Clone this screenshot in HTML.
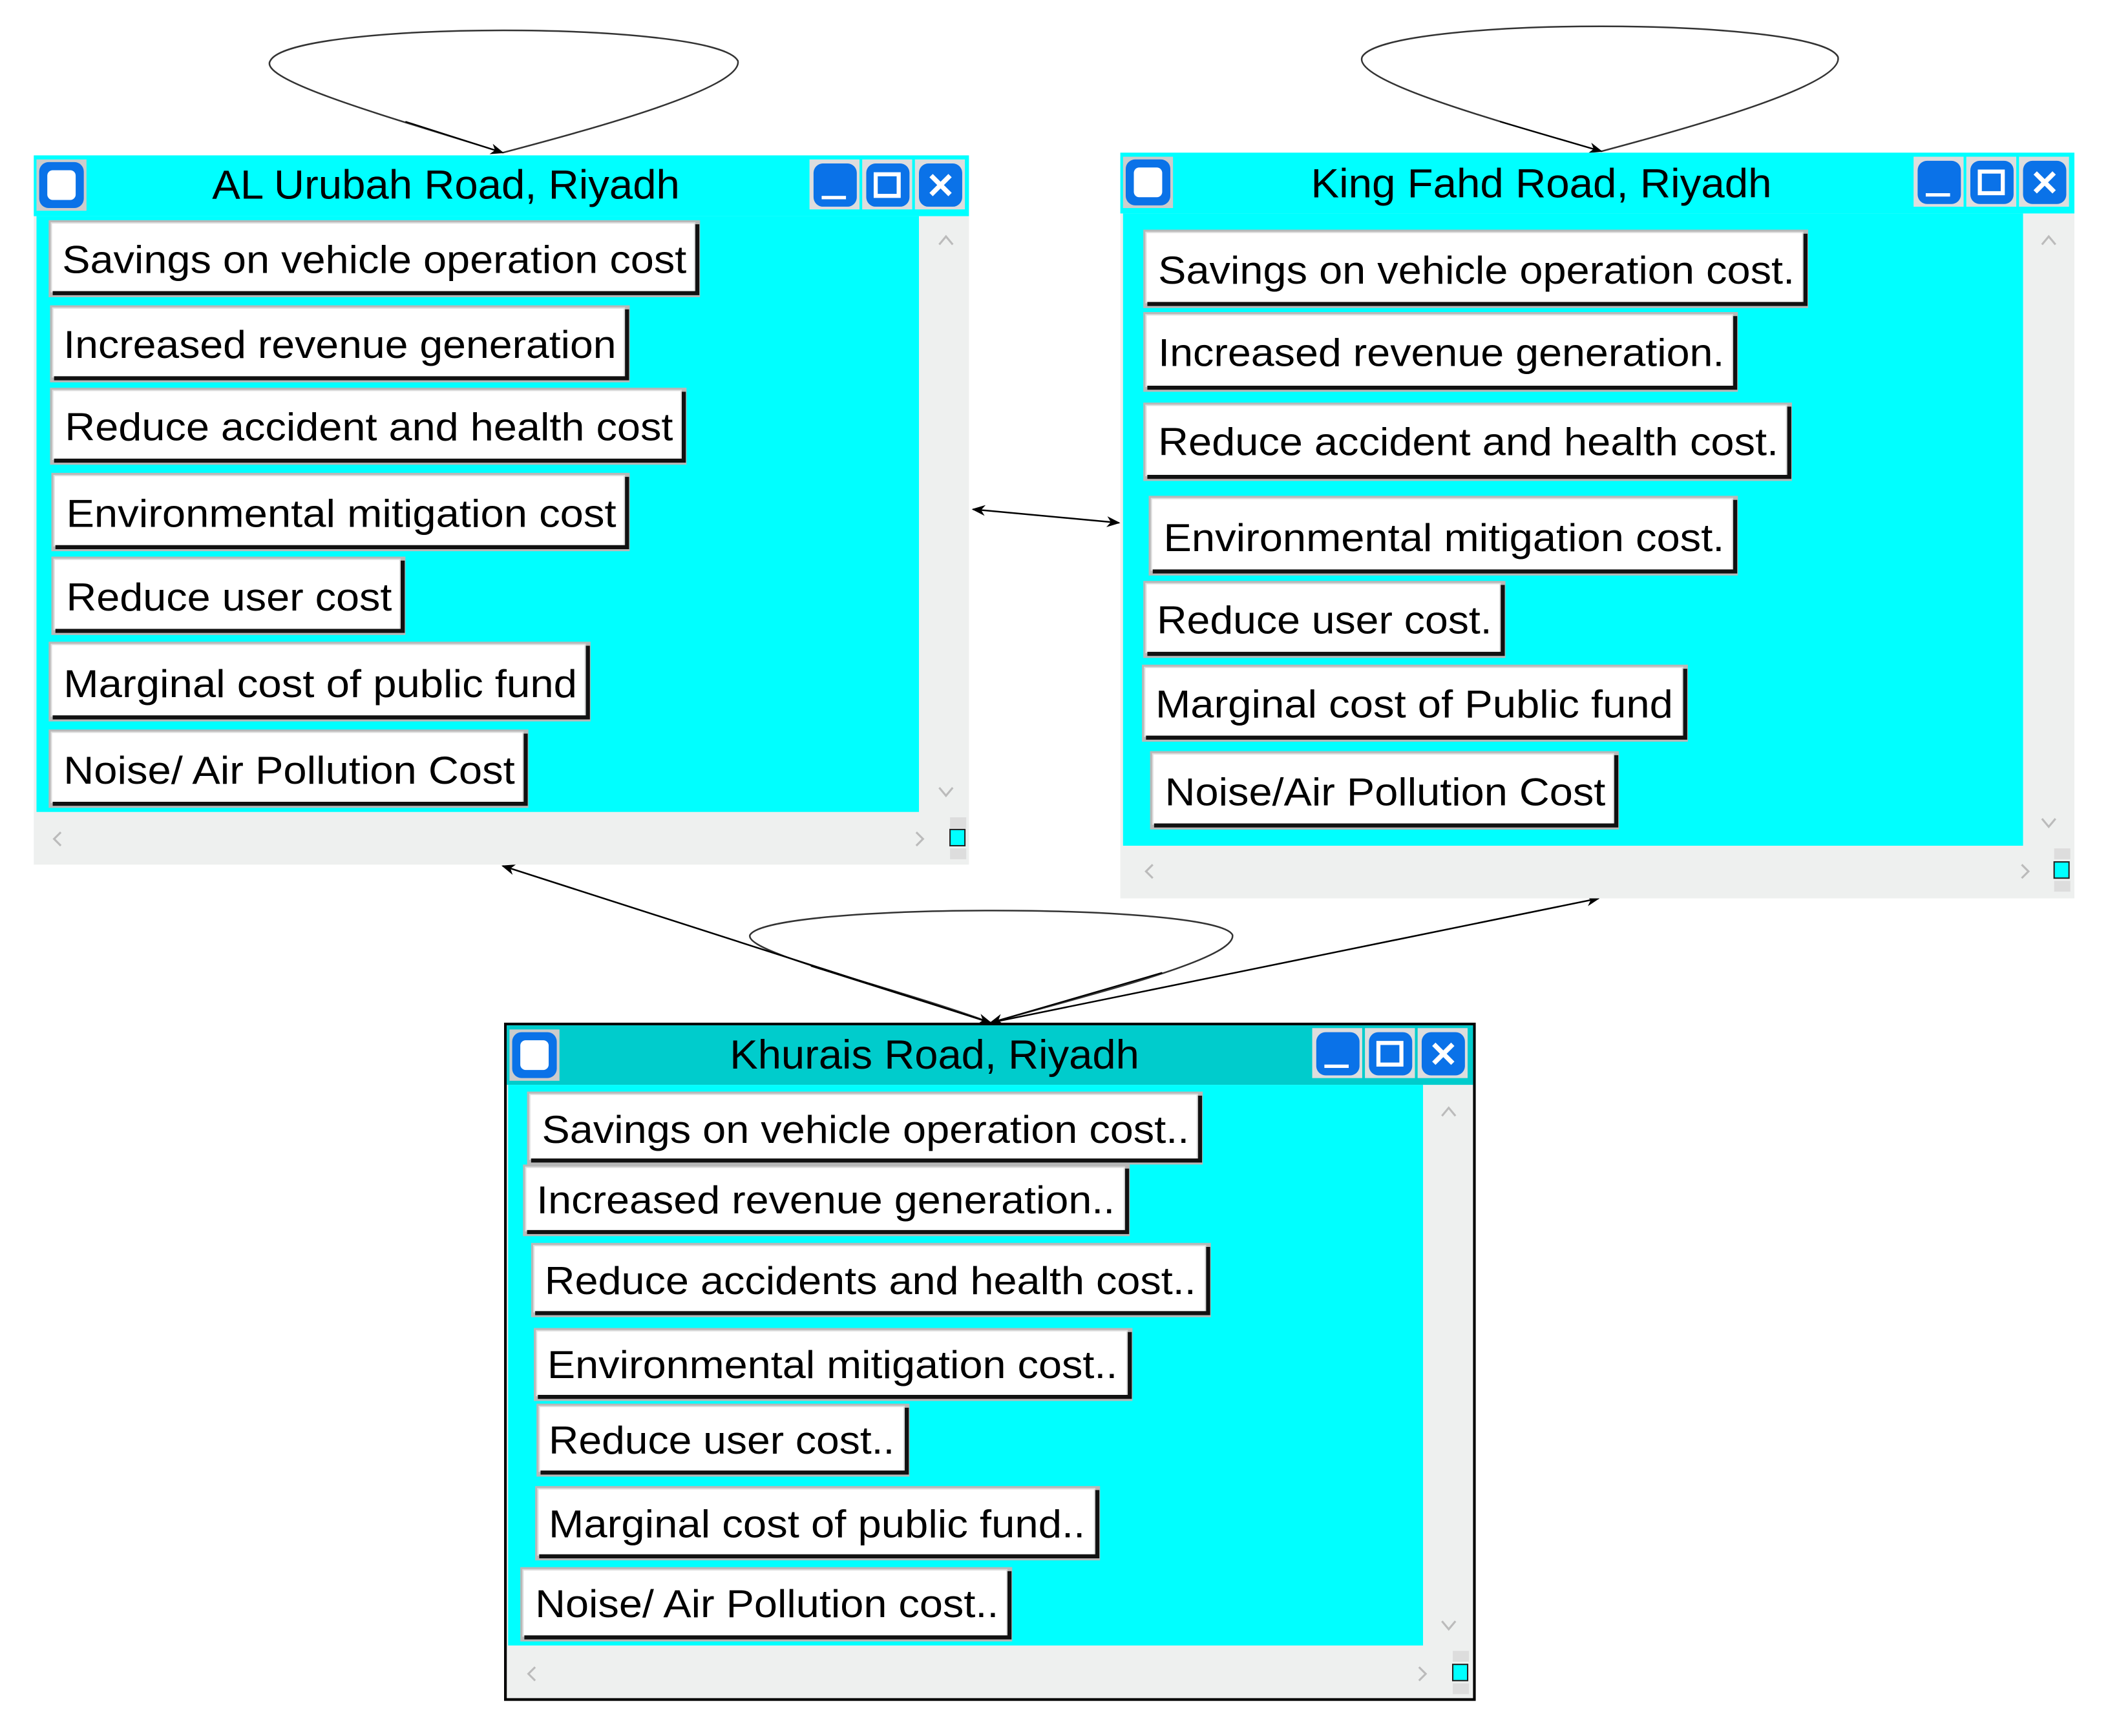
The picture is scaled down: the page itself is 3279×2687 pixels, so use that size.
<!DOCTYPE html>
<html><head><meta charset="utf-8"><style>html,body{margin:0;padding:0;background:#fff}svg{display:block}</style></head>
<body>
<svg width="3279" height="2687" viewBox="0 0 1568 1285" preserveAspectRatio="none" xmlns="http://www.w3.org/2000/svg" font-family="'Liberation Sans', sans-serif">
<defs>
<marker id="ah" markerWidth="10" markerHeight="8" refX="9" refY="4" orient="auto-start-reverse" markerUnits="userSpaceOnUse"><path d="M0,0 L10,4 L0,8 L3,4 Z" fill="#000"/></marker>
<g id="tb">
 <rect x="0" y="0" width="37" height="37" fill="#ddd"/><rect x="3" y="3" width="32" height="32" rx="7" fill="#0a72e8"/>
</g>
</defs>

<!-- loops -->
<path d="M372,113 C300,90 190,60 200,45 C215,15 530,15 546,45 C550,65 440,95 372,113" fill="none" stroke="#333" stroke-width="1.2"/>
<path d="M1185,112 C1110,90 1000,60 1008,42 C1025,12 1345,12 1360,42 C1365,62 1260,92 1185,112" fill="none" stroke="#333" stroke-width="1.2"/>
<path d="M733,757 C660,730 550,705 555,692 C570,668 900,668 912,692 C915,710 810,735 733,757" fill="none" stroke="#333" stroke-width="1.2"/>
<!-- edges -->
<line x1="720" y1="377" x2="828" y2="387" stroke="#000" stroke-width="1.2" marker-end="url(#ah)" marker-start="url(#ah)" />
<line x1="733" y1="757" x2="372" y2="641" stroke="#000" stroke-width="1.2" marker-end="url(#ah)"/>
<line x1="733" y1="757" x2="1183" y2="665" stroke="#000" stroke-width="1.2" marker-end="url(#ah)"/>
<line x1="600" y1="715" x2="733" y2="757" stroke="#000" stroke-width="1" marker-end="url(#ah)"/>
<line x1="860" y1="720" x2="733" y2="757" stroke="#000" stroke-width="1" marker-end="url(#ah)"/>
<line x1="300" y1="90" x2="372" y2="113" stroke="#000" stroke-width="1" marker-end="url(#ah)"/>
<line x1="1110" y1="90" x2="1185" y2="112" stroke="#000" stroke-width="1" marker-end="url(#ah)"/>

<!-- WINDOW 1 -->
<g>
<rect x="25" y="115" width="692" height="525" fill="#eef0ef"/>
<rect x="25" y="115" width="692" height="45" fill="#00ffff"/>
<rect x="27" y="160" width="653" height="441" fill="#00ffff"/>
<rect x="27" y="118" width="37" height="38" fill="#ccc"/><rect x="29" y="120" width="33" height="34" rx="7" fill="#0a72e8"/><rect x="35" y="126" width="21" height="22" rx="4" fill="#fff"/>
<g transform="translate(599,118)"><use href="#tb"/><rect x="9" y="27" width="18" height="2.5" fill="#fff"/></g>
<g transform="translate(638,118)"><use href="#tb"/><rect x="10" y="11" width="17" height="16" fill="none" stroke="#fff" stroke-width="3"/></g>
<g transform="translate(677,118)"><use href="#tb"/><path d="M12,12 L26,26 M26,12 L12,26" stroke="#fff" stroke-width="3.5"/></g>
<text x="157" y="147" font-size="30" textLength="346" lengthAdjust="spacingAndGlyphs">AL Urubah Road, Riyadh</text>
<path d="M695,181 L700,175 L705,181 M695,583 L700,589 L705,583 M45,616 L40,621 L45,626 M678,616 L683,621 L678,626" stroke="#bbb" stroke-width="1.5" fill="none"/>
<rect x="703" y="605" width="12" height="8" fill="#ddd"/><rect x="703" y="614" width="11" height="12" fill="#00ffff" stroke="#222" stroke-width="1"/><rect x="703" y="628" width="12" height="8" fill="#ddd"/>
</g>

<!-- WINDOW 2 -->
<g>
<rect x="829" y="113" width="706" height="552" fill="#eef0ef"/>
<rect x="829" y="113" width="706" height="45" fill="#00ffff"/>
<rect x="831" y="158" width="666" height="468" fill="#00ffff"/>
<rect x="831" y="116" width="37" height="38" fill="#ccc"/><rect x="833" y="118" width="33" height="34" rx="7" fill="#0a72e8"/><rect x="839" y="124" width="21" height="22" rx="4" fill="#fff"/>
<g transform="translate(1416,116)"><use href="#tb"/><rect x="9" y="27" width="18" height="2.5" fill="#fff"/></g>
<g transform="translate(1455,116)"><use href="#tb"/><rect x="10" y="11" width="17" height="16" fill="none" stroke="#fff" stroke-width="3"/></g>
<g transform="translate(1494,116)"><use href="#tb"/><path d="M12,12 L26,26 M26,12 L12,26" stroke="#fff" stroke-width="3.5"/></g>
<text x="970" y="146" font-size="30" textLength="341" lengthAdjust="spacingAndGlyphs">King Fahd Road, Riyadh</text>
<path d="M1511,181 L1516,175 L1521,181 M1511,606 L1516,612 L1521,606 M853,640 L848,645 L853,650 M1496,640 L1501,645 L1496,650" stroke="#bbb" stroke-width="1.5" fill="none"/>
<rect x="1520" y="628" width="12" height="8" fill="#ddd"/><rect x="1520" y="638" width="11" height="12" fill="#00ffff" stroke="#222" stroke-width="1"/><rect x="1520" y="652" width="12" height="8" fill="#ddd"/>
</g>

<!-- WINDOW 3 -->
<g>
<rect x="374" y="758" width="717" height="500" fill="#eef0ef" stroke="#000" stroke-width="2"/>
<rect x="375" y="759" width="715" height="44" fill="#00cccc"/>
<rect x="376" y="803" width="677" height="415" fill="#00ffff"/>
<rect x="377" y="762" width="37" height="38" fill="#ccc"/><rect x="379" y="764" width="33" height="34" rx="7" fill="#0a72e8"/><rect x="385" y="770" width="21" height="22" rx="4" fill="#fff"/>
<g transform="translate(971,761)"><use href="#tb"/><rect x="9" y="27" width="18" height="2.5" fill="#fff"/></g>
<g transform="translate(1010,761)"><use href="#tb"/><rect x="10" y="11" width="17" height="16" fill="none" stroke="#fff" stroke-width="3"/></g>
<g transform="translate(1049,761)"><use href="#tb"/><path d="M12,12 L26,26 M26,12 L12,26" stroke="#fff" stroke-width="3.5"/></g>
<text x="540" y="791" font-size="30" textLength="303" lengthAdjust="spacingAndGlyphs">Khurais Road, Riyadh</text>
<path d="M1067,826 L1072,820 L1077,826 M1067,1200 L1072,1206 L1077,1200 M396,1234 L391,1239 L396,1244 M1050,1234 L1055,1239 L1050,1244" stroke="#bbb" stroke-width="1.5" fill="none"/>
<rect x="1075" y="1222" width="12" height="8" fill="#ddd"/><rect x="1075" y="1232" width="11" height="12" fill="#00ffff" stroke="#222" stroke-width="1"/><rect x="1075" y="1246" width="12" height="8" fill="#ddd"/>
</g>

<!-- BUTTONS -->
<g font-size="29" fill="#000">
<rect x="36" y="163" width="482" height="57" fill="#b8b8b8"/><rect x="38" y="165" width="476" height="51" fill="#fff" stroke="#ddd"/><path d="M39,217 H516 V166" stroke="#111" stroke-width="3" fill="none"/>
<text x="46" y="202" textLength="462" lengthAdjust="spacingAndGlyphs">Savings on vehicle operation cost</text>
<rect x="37" y="226" width="429" height="57" fill="#b8b8b8"/><rect x="39" y="228" width="423" height="51" fill="#fff" stroke="#ddd"/><path d="M40,280 H464 V229" stroke="#111" stroke-width="3" fill="none"/>
<text x="47" y="265" textLength="409" lengthAdjust="spacingAndGlyphs">Increased revenue generation</text>
<rect x="37" y="287" width="471" height="57" fill="#b8b8b8"/><rect x="39" y="289" width="465" height="51" fill="#fff" stroke="#ddd"/><path d="M40,341 H506 V290" stroke="#111" stroke-width="3" fill="none"/>
<text x="48" y="326" textLength="450" lengthAdjust="spacingAndGlyphs">Reduce accident and health cost</text>
<rect x="38" y="350" width="428" height="58" fill="#b8b8b8"/><rect x="40" y="352" width="422" height="52" fill="#fff" stroke="#ddd"/><path d="M41,405 H464 V353" stroke="#111" stroke-width="3" fill="none"/>
<text x="49" y="390" textLength="407" lengthAdjust="spacingAndGlyphs">Environmental mitigation cost</text>
<rect x="38" y="412" width="262" height="58" fill="#b8b8b8"/><rect x="40" y="414" width="256" height="52" fill="#fff" stroke="#ddd"/><path d="M41,467 H298 V415" stroke="#111" stroke-width="3" fill="none"/>
<text x="49" y="452" textLength="241" lengthAdjust="spacingAndGlyphs">Reduce user cost</text>
<rect x="36" y="475" width="401" height="59" fill="#b8b8b8"/><rect x="38" y="477" width="395" height="53" fill="#fff" stroke="#ddd"/><path d="M39,531 H435 V478" stroke="#111" stroke-width="3" fill="none"/>
<text x="47" y="516" textLength="380" lengthAdjust="spacingAndGlyphs">Marginal cost of public fund</text>
<rect x="36" y="540" width="355" height="58" fill="#b8b8b8"/><rect x="38" y="542" width="349" height="52" fill="#fff" stroke="#ddd"/><path d="M39,595 H389 V543" stroke="#111" stroke-width="3" fill="none"/>
<text x="47" y="580" textLength="334" lengthAdjust="spacingAndGlyphs">Noise/ Air Pollution Cost</text>
<rect x="846" y="170" width="492" height="58" fill="#b8b8b8"/><rect x="848" y="172" width="486" height="52" fill="#fff" stroke="#ddd"/><path d="M849,225 H1336 V173" stroke="#111" stroke-width="3" fill="none"/>
<text x="857" y="210" textLength="471" lengthAdjust="spacingAndGlyphs">Savings on vehicle operation cost.</text>
<rect x="846" y="231" width="440" height="59" fill="#b8b8b8"/><rect x="848" y="233" width="434" height="53" fill="#fff" stroke="#ddd"/><path d="M849,287 H1284 V234" stroke="#111" stroke-width="3" fill="none"/>
<text x="857" y="271" textLength="419" lengthAdjust="spacingAndGlyphs">Increased revenue generation.</text>
<rect x="846" y="298" width="480" height="58" fill="#b8b8b8"/><rect x="848" y="300" width="474" height="52" fill="#fff" stroke="#ddd"/><path d="M849,353 H1324 V301" stroke="#111" stroke-width="3" fill="none"/>
<text x="857" y="337" textLength="459" lengthAdjust="spacingAndGlyphs">Reduce accident and health cost.</text>
<rect x="850" y="367" width="436" height="59" fill="#b8b8b8"/><rect x="852" y="369" width="430" height="53" fill="#fff" stroke="#ddd"/><path d="M853,423 H1284 V370" stroke="#111" stroke-width="3" fill="none"/>
<text x="861" y="408" textLength="415" lengthAdjust="spacingAndGlyphs">Environmental mitigation cost.</text>
<rect x="846" y="430" width="268" height="57" fill="#b8b8b8"/><rect x="848" y="432" width="262" height="51" fill="#fff" stroke="#ddd"/><path d="M849,484 H1112 V433" stroke="#111" stroke-width="3" fill="none"/>
<text x="856" y="469" textLength="248" lengthAdjust="spacingAndGlyphs">Reduce user cost.</text>
<rect x="845" y="492" width="404" height="57" fill="#b8b8b8"/><rect x="847" y="494" width="398" height="51" fill="#fff" stroke="#ddd"/><path d="M848,546 H1247 V495" stroke="#111" stroke-width="3" fill="none"/>
<text x="855" y="531" textLength="383" lengthAdjust="spacingAndGlyphs">Marginal cost of Public fund</text>
<rect x="851" y="556" width="347" height="58" fill="#b8b8b8"/><rect x="853" y="558" width="341" height="52" fill="#fff" stroke="#ddd"/><path d="M854,611 H1196 V559" stroke="#111" stroke-width="3" fill="none"/>
<text x="862" y="596" textLength="326" lengthAdjust="spacingAndGlyphs">Noise/Air Pollution Cost</text>
<rect x="390" y="808" width="500" height="54" fill="#b8b8b8"/><rect x="392" y="810" width="494" height="48" fill="#fff" stroke="#ddd"/><path d="M393,859 H888 V811" stroke="#111" stroke-width="3" fill="none"/>
<text x="401" y="846" textLength="479" lengthAdjust="spacingAndGlyphs">Savings on vehicle operation cost..</text>
<rect x="387" y="862" width="449" height="53" fill="#b8b8b8"/><rect x="389" y="864" width="443" height="47" fill="#fff" stroke="#ddd"/><path d="M390,912 H834 V865" stroke="#111" stroke-width="3" fill="none"/>
<text x="397" y="898" textLength="428" lengthAdjust="spacingAndGlyphs">Increased revenue generation..</text>
<rect x="393" y="920" width="503" height="55" fill="#b8b8b8"/><rect x="395" y="922" width="497" height="49" fill="#fff" stroke="#ddd"/><path d="M396,972 H894 V923" stroke="#111" stroke-width="3" fill="none"/>
<text x="403" y="958" textLength="482" lengthAdjust="spacingAndGlyphs">Reduce accidents and health cost..</text>
<rect x="395" y="983" width="443" height="54" fill="#b8b8b8"/><rect x="397" y="985" width="437" height="48" fill="#fff" stroke="#ddd"/><path d="M398,1034 H836 V986" stroke="#111" stroke-width="3" fill="none"/>
<text x="405" y="1020" textLength="422" lengthAdjust="spacingAndGlyphs">Environmental mitigation cost..</text>
<rect x="397" y="1039" width="276" height="54" fill="#b8b8b8"/><rect x="399" y="1041" width="270" height="48" fill="#fff" stroke="#ddd"/><path d="M400,1090 H671 V1042" stroke="#111" stroke-width="3" fill="none"/>
<text x="406" y="1076" textLength="256" lengthAdjust="spacingAndGlyphs">Reduce user cost..</text>
<rect x="396" y="1100" width="418" height="55" fill="#b8b8b8"/><rect x="398" y="1102" width="412" height="49" fill="#fff" stroke="#ddd"/><path d="M399,1152 H812 V1103" stroke="#111" stroke-width="3" fill="none"/>
<text x="406" y="1138" textLength="397" lengthAdjust="spacingAndGlyphs">Marginal cost of public fund..</text>
<rect x="385" y="1160" width="364" height="55" fill="#b8b8b8"/><rect x="387" y="1162" width="358" height="49" fill="#fff" stroke="#ddd"/><path d="M388,1212 H747 V1163" stroke="#111" stroke-width="3" fill="none"/>
<text x="396" y="1197" textLength="343" lengthAdjust="spacingAndGlyphs">Noise/ Air Pollution cost..</text>
</g>
</svg>
</body></html>
